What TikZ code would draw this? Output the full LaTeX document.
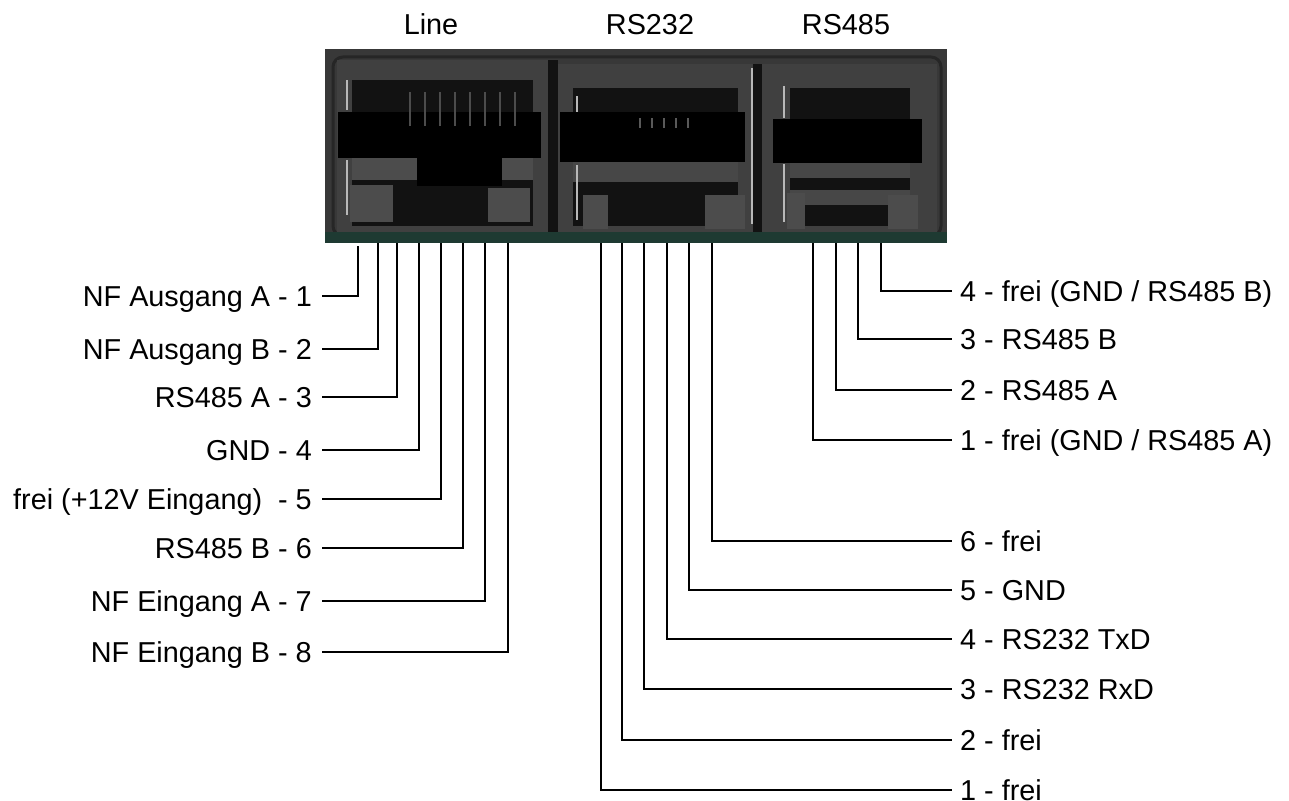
\documentclass[tikz,border=0pt]{standalone}
\usepackage{fontspec}
\setmainfont{Liberation Sans}
\definecolor{panel}{HTML}{383838}
\definecolor{frame}{HTML}{404040}
\definecolor{hole}{HTML}{121212}
\definecolor{tab}{HTML}{4C4C4C}
\definecolor{hilite}{HTML}{B8B8B8}
\definecolor{pcb}{HTML}{1E3A32}
\begin{document}
\begin{tikzpicture}[x=1pt,y=-1pt,
  lab/.style={font=\fontsize{28.8}{34}\selectfont, inner sep=0pt, text height=20.6pt, text depth=0pt},
  leftlab/.style={lab, anchor=east, inner xsep=10pt},
  rightlab/.style={lab, anchor=west, inner xsep=8pt},
  wire/.style={line width=1.6pt, black},
  slot/.style={fill=black},
  tabbox/.style={fill=tab},
  hl/.style={draw=hilite, line width=1.4pt}]
\useasboundingbox (0,0) rectangle (1289,800);
\fill[white] (0,0) rectangle (1289,800);

% ---------- panel (photo substitute) ----------
\fill[panel] (325,49) rectangle (947,243);
\draw[black!85, line width=3pt, rounded corners=10pt] (333,57) rectangle (941,236);
% jack frames
\fill[frame] (337,60) rectangle (548,232);
\fill[frame] (558,64) rectangle (753,232);
\fill[frame] (762,64) rectangle (937,232);
\fill[hole] (548,60) rectangle (558,232);
\fill[hole] (753,64) rectangle (762,232);
% openings
\fill[hole] (352,80) rectangle (533,226);
\fill[hole] (573,88) rectangle (738,226);
\fill[hole] (790,88) rectangle (910,226);
% latch slots
\fill[slot] (338,112) rectangle (541,158);
\fill[slot] (560,112) rectangle (745,162);
\fill[slot] (773,119) rectangle (922,163);
% inner bands
\fill[black!70] (352,158) rectangle (533,180);
\fill[black] (417,157) rectangle (502,186);
\fill[black!72] (573,162) rectangle (738,182);
\fill[black!72] (790,163) rectangle (910,178);
\fill[black!72] (790,190) rectangle (910,205);
% contacts
\foreach \cx in {410,425,440,455,470,485,500,515}
  \draw[black!70, line width=2pt] (\cx,92) -- (\cx,126);
\foreach \cx in {640,652,664,676,688}
  \draw[black!65, line width=2.5pt] (\cx,118) -- (\cx,128);
% bottom tabs
\fill[tabbox] (350,185) rectangle (393,222);
\fill[tabbox] (488,188) rectangle (530,222);
\fill[tabbox] (583,195) rectangle (608,229);
\fill[tabbox] (705,195) rectangle (745,229);
\fill[tabbox] (787,193) rectangle (805,229);
\fill[tabbox] (888,195) rectangle (918,229);
% highlights
\draw[hl] (347,80) -- (347,110);
\draw[hl] (347,160) -- (347,215);
\draw[hl] (577,96) -- (577,112);
\draw[hl] (577,165) -- (577,220);
\draw[hl] (752,68) -- (752,224);
\draw[hl] (784,86) -- (784,118);
\draw[hl] (784,164) -- (784,222);
% pcb strip
\fill[pcb] (325,232) rectangle (947,243);

% ---------- top labels ----------
\node[lab] (tline) at (431,24) {Line};
\node[lab] (trs232) at (650,24) {RS232};
\node[lab] (trs485) at (846,24) {RS485};

% ---------- pins ----------
\coordinate (L1) at (358,246);
\coordinate (L2) at (378,243);
\coordinate (L3) at (397,243);
\coordinate (L4) at (419,243);
\coordinate (L5) at (441,243);
\coordinate (L6) at (463,243);
\coordinate (L7) at (485,243);
\coordinate (L8) at (508,243);
\coordinate (S1) at (601,243);
\coordinate (S2) at (622,243);
\coordinate (S3) at (644,243);
\coordinate (S4) at (667,243);
\coordinate (S5) at (689,243);
\coordinate (S6) at (712,243);
\coordinate (R1) at (813,243);
\coordinate (R2) at (836,243);
\coordinate (R3) at (858,243);
\coordinate (R4) at (881,243);

% ---------- left labels ----------
\node[leftlab] (nl1) at (322,296) {NF Ausgang A - 1};
\node[leftlab] (nl2) at (322,349) {NF Ausgang B - 2};
\node[leftlab] (nl3) at (322,397) {RS485 A - 3};
\node[leftlab] (nl4) at (322,450) {GND - 4};
\node[leftlab] (nl5) at (322,499) {frei (+12V Eingang)~ - 5};
\node[leftlab] (nl6) at (322,548) {RS485 B - 6};
\node[leftlab] (nl7) at (322,601) {NF Eingang A - 7};
\node[leftlab] (nl8) at (322,652) {NF Eingang B - 8};

% ---------- right labels ----------
\node[rightlab] (nr4) at (952,291) {4 - frei (GND / RS485 B)};
\node[rightlab] (nr3) at (952,339) {3 - RS485 B};
\node[rightlab] (nr2) at (952,390) {2 - RS485 A};
\node[rightlab] (nr1) at (952,440) {1 - frei (GND / RS485 A)};
\node[rightlab] (ns6) at (952,541) {6 - frei};
\node[rightlab] (ns5) at (952,590) {5 - GND};
\node[rightlab] (ns4) at (952,639) {4 - RS232 TxD};
\node[rightlab] (ns3) at (952,689) {3 - RS232 RxD};
\node[rightlab] (ns2) at (952,740) {2 - frei};
\node[rightlab] (ns1) at (952,790) {1 - frei};

% ---------- wires ----------
\foreach \i in {1,...,8}
  \draw[wire] (L\i) |- (nl\i.east);
\foreach \i in {1,...,6}
  \draw[wire] (S\i) |- (ns\i.west);
\foreach \i in {1,...,4}
  \draw[wire] (R\i) |- (nr\i.west);
\end{tikzpicture}
\end{document}
